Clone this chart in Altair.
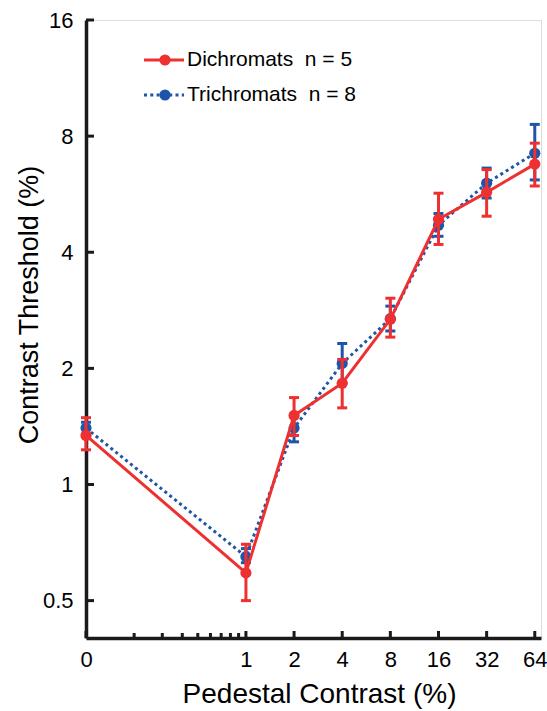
import altair as alt
import pandas as pd

# ---- data ----
pedestal = [0, 1, 2, 4, 8, 16, 32, 64]          # pedestal contrast (%)
# 0 % is drawn at 0.1 on the logarithmic axis (as in the figure)
x_plot = [0.1, 1, 2, 4, 8, 16, 32, 64]

dich_mean = [1.34, 0.59, 1.51, 1.83, 2.68, 4.87, 5.72, 6.77]
dich_lo = [1.23, 0.50, 1.34, 1.58, 2.41, 4.19, 4.96, 5.94]
dich_hi = [1.49, 0.70, 1.68, 2.11, 3.04, 5.69, 6.55, 7.67]

tri_mean = [1.40, 0.65, 1.40, 2.06, 2.69, 4.70, 6.04, 7.22]
tri_lo = [1.35, 0.627, 1.29, 1.83, 2.50, 4.40, 5.53, 6.16]
tri_hi = [1.45, 0.682, 1.50, 2.32, 2.90, 5.04, 6.61, 8.58]

group_labels = ["Dichromats\u00a0 n = 5", "Trichromats\u00a0 n = 8"]
colors = ["#EE3030", "#1F55A8"]

x_major = [0.1, 1, 2, 4, 8, 16, 32, 64]
x_minor = [0.2, 0.3, 0.4, 0.5, 0.6, 0.7, 0.8, 0.9]
y_major = [0.5, 1, 2, 4, 8, 16]

FONT = "Liberation Sans"
W, H = 455, 618

dich = pd.DataFrame({"x": x_plot, "ped": pedestal, "m": dich_mean, "lo": dich_lo, "hi": dich_hi})
tri = pd.DataFrame({"x": x_plot, "ped": pedestal, "m": tri_mean, "lo": tri_lo, "hi": tri_hi})

xscale = alt.Scale(type="log", base=10, domain=[0.1, 70], nice=False)
yscale = alt.Scale(type="log", base=2, domain=[0.4, 16], nice=False)

xaxis = alt.Axis(values=x_major, tickSize=0, labelPadding=11, labelFlush=False,
                 labelExpr="datum.value < 0.15 ? '0' : format(datum.value, 'd')",
                 labelFont=FONT, labelFontSize=22, labelColor="black",
                 title="Pedestal Contrast (%)", titleFont=FONT, titleFontSize=28,
                 titleFontWeight="normal", titleColor="black",
                 titleX=233, titleY=64, titleBaseline="alphabetic",
                 domainColor="#1a1a1a", domainWidth=3.5, grid=False)
yaxis = alt.Axis(values=y_major, tickSize=0, labelPadding=13, format="~g", labelFlush=False,
                 labelFont=FONT, labelFontSize=22, labelColor="black",
                 title="Contrast Threshold (%)", titleFont=FONT, titleFontSize=27,
                 titleFontWeight="normal", titleColor="black",
                 titleX=-49, titleY=284.5, titleBaseline="alphabetic", titleAngle=270,
                 domainColor="#1a1a1a", domainWidth=3.5, grid=False)

X = alt.X("x:Q", scale=xscale, axis=xaxis)
Y = alt.Y("m:Q", scale=yscale, axis=yaxis)


def series(df, color, dash):
    base = alt.Chart(df)
    bars = base.mark_rule(color=color, strokeWidth=3).encode(
        x=alt.X("x:Q", scale=xscale), y=alt.Y("lo:Q", scale=yscale), y2="hi:Q")
    cap_lo = base.mark_rule(color=color, strokeWidth=3, xOffset=-5, x2Offset=5).encode(
        x=alt.X("x:Q", scale=xscale), x2="x:Q", y=alt.Y("lo:Q", scale=yscale))
    cap_hi = base.mark_rule(color=color, strokeWidth=3, xOffset=-5, x2Offset=5).encode(
        x=alt.X("x:Q", scale=xscale), x2="x:Q", y=alt.Y("hi:Q", scale=yscale))
    line_kw = dict(color=color, strokeWidth=3)
    if dash:
        line_kw["strokeDash"] = dash
    line = base.mark_line(**line_kw).encode(x=X, y=Y, order="x:Q")
    pts = base.mark_circle(color=color, size=125, opacity=1).encode(x=X, y=Y)
    return [bars, cap_lo, cap_hi, line, pts]


# inward tick marks
xt_major = alt.Chart(pd.DataFrame({"t": x_major})).mark_rule(color="#1a1a1a", strokeWidth=3).encode(
    x=alt.X("t:Q", scale=xscale), y=alt.value(H), y2=alt.value(H - 7))
xt_minor = alt.Chart(pd.DataFrame({"t": x_minor})).mark_rule(color="#1a1a1a", strokeWidth=3).encode(
    x=alt.X("t:Q", scale=xscale), y=alt.value(H), y2=alt.value(H - 5))
yt = alt.Chart(pd.DataFrame({"t": y_major})).mark_rule(color="#1a1a1a", strokeWidth=3).encode(
    y=alt.Y("t:Q", scale=yscale), x=alt.value(0), x2=alt.value(8))


# legend
def legend_row(label, color, dash, ypos):
    d = alt.Chart(pd.DataFrame({"label": [label]}))
    kw = dict(color=color, strokeWidth=3)
    if dash:
        kw["strokeDash"] = dash
    ln = d.mark_rule(**kw).encode(x=alt.value(58), x2=alt.value(98), y=alt.value(ypos))
    pt = d.mark_circle(color=color, size=125, opacity=1).encode(x=alt.value(79), y=alt.value(ypos))
    tx = d.mark_text(align="left", baseline="middle", font=FONT, fontSize=21, color="black").encode(
        x=alt.value(101), y=alt.value(ypos), text="label:N")
    return [ln, pt, tx]


layers = []
layers += series(tri, colors[1], [3, 3.3])
layers += series(dich, colors[0], None)
layers += [xt_major, xt_minor, yt]
layers += legend_row(group_labels[0], colors[0], None, 40)
layers += legend_row(group_labels[1], colors[1], [3, 3.3], 75)

chart = alt.layer(*layers).properties(
    width=W, height=H,
    autosize=alt.AutoSizeParams(type="none"),
    padding={"left": 86, "top": 20, "right": 6, "bottom": 73},
).configure_view(stroke=None).configure(background="white")

chart.save("out.html", embed_options={"renderer": "svg", "actions": False})
